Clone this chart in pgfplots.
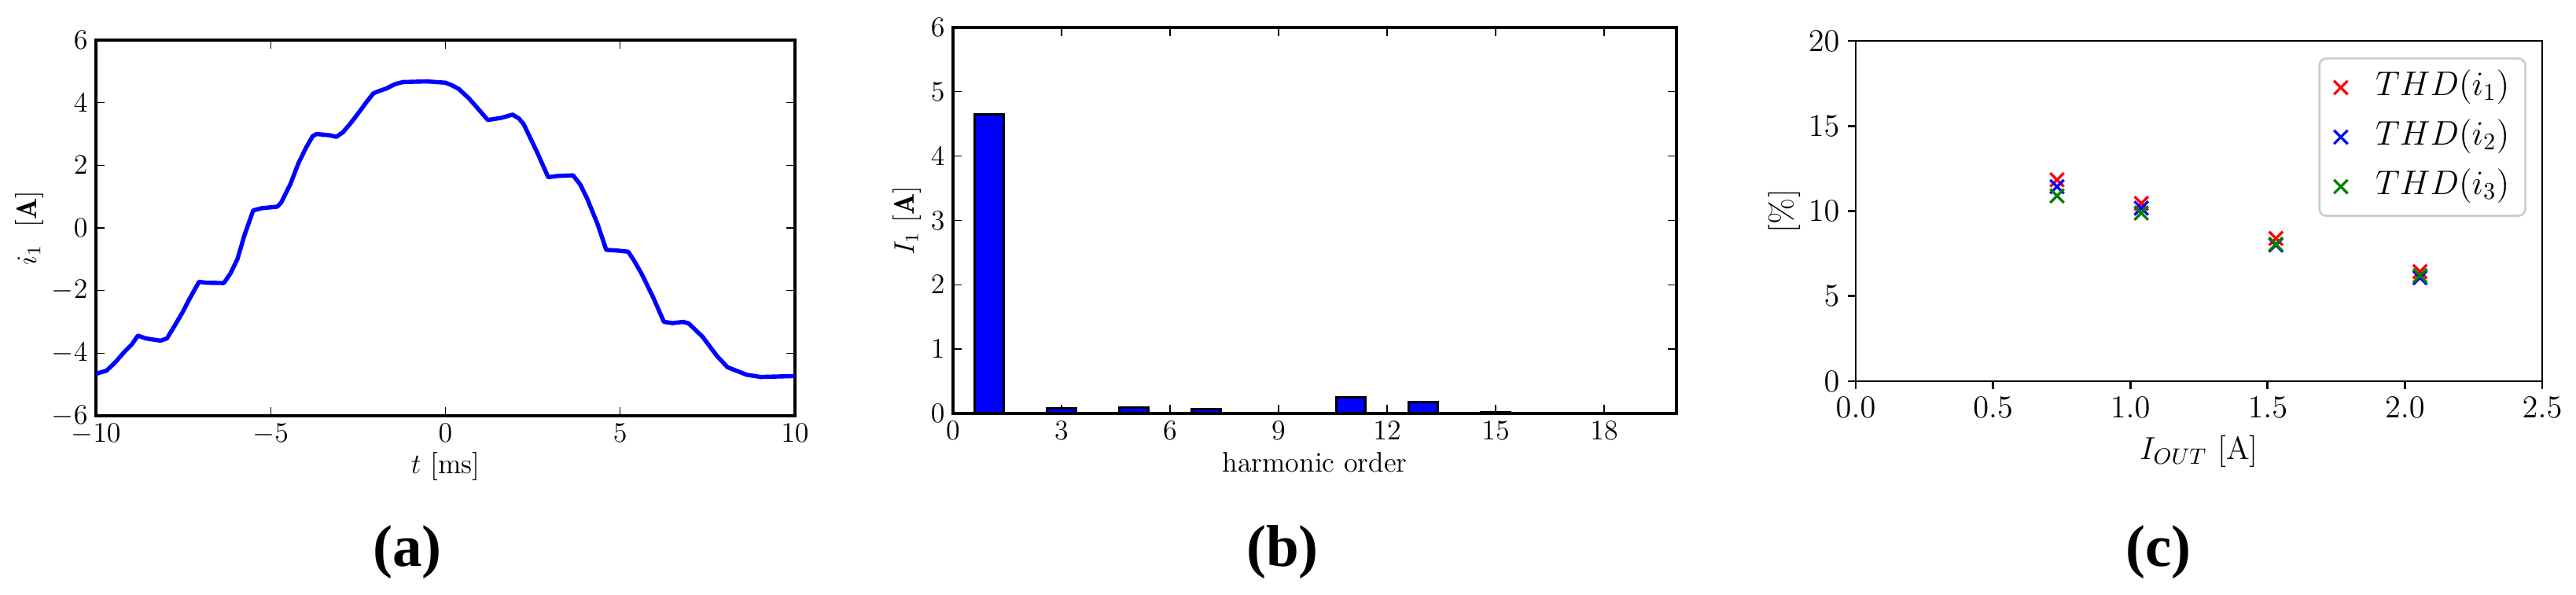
\RequirePackage{fix-cm}
\documentclass[border=0pt]{standalone}
\usepackage{fontspec}
\usepackage{pgfplots}
\pgfplotsset{compat=1.18}
\newfontfamily\labfont{Liberation Serif}
\definecolor{mplgreen}{rgb}{0,0.5,0}
\begin{document}
\begin{tikzpicture}
\path[use as bounding box] (0,0) rectangle (1092pt,252pt);

% ---------------- (a) ----------------
\begin{axis}[at={(40.67pt,75.67pt)}, anchor=south west, scale only axis,
  width=296.33pt, height=159.33pt,
  xmin=-10, xmax=10, ymin=-6, ymax=6,
  xtick={-10,-5,0,5,10}, ytick={-6,-4,-2,0,2,4,6},
  tick align=inside, major tick length=3.7pt,
  tick style={line width=0.45pt, black},
  axis line style={line width=1.2pt},
  font=\fontsize{12}{14}\selectfont,
  xlabel={$t$ [ms]}, ylabel={$i_1$\; [$\mathbf{A}$]},
  xlabel style={at={(axis description cs:0.5,-0.136)}, anchor=center},
  ylabel style={at={(axis description cs:-0.0956,0.5)}, anchor=center},
]
\addplot[blue, line width=1.8pt, line join=round] coordinates {
(-10.00,-4.66) (-9.70,-4.56) (-9.47,-4.32) (-9.17,-3.94) (-8.98,-3.73)
(-8.80,-3.44) (-8.57,-3.53) (-8.15,-3.60) (-7.97,-3.53) (-7.74,-3.11)
(-7.52,-2.69) (-7.33,-2.28) (-7.05,-1.72) (-6.85,-1.75) (-6.34,-1.76)
(-6.15,-1.45) (-5.95,-0.99) (-5.75,-0.23) (-5.50,0.56) (-5.26,0.63)
(-4.81,0.68) (-4.70,0.81) (-4.44,1.39) (-4.21,2.06) (-3.99,2.56)
(-3.80,2.93) (-3.69,3.00) (-3.31,2.96) (-3.12,2.91) (-2.93,3.06)
(-2.71,3.35) (-2.45,3.73) (-2.26,4.02) (-2.07,4.29) (-1.96,4.35)
(-1.70,4.45) (-1.43,4.60) (-1.21,4.66) (-0.53,4.68) (-0.01,4.64)
(0.14,4.58) (0.37,4.45) (0.67,4.14) (0.90,3.85) (1.21,3.45)
(1.40,3.48) (1.61,3.52) (1.92,3.62) (2.10,3.50) (2.24,3.31)
(2.63,2.40) (2.94,1.62) (3.20,1.66) (3.65,1.68) (3.85,1.40)
(4.05,0.95) (4.36,0.10) (4.60,-0.70) (4.90,-0.72) (5.23,-0.76)
(5.40,-1.05) (5.62,-1.48) (5.94,-2.21) (6.25,-3.00) (6.50,-3.04)
(6.80,-3.00) (6.96,-3.05) (7.36,-3.48) (7.76,-4.08) (8.07,-4.45)
(8.30,-4.55) (8.62,-4.69) (9.02,-4.76) (10.00,-4.73)
};
\end{axis}

% ---------------- (b) ----------------
\begin{axis}[at={(404pt,76.67pt)}, anchor=south west, scale only axis,
  width=306.67pt, height=163.67pt,
  xmin=0, xmax=20, ymin=0, ymax=6,
  xtick={0,3,6,9,12,15,18}, ytick={0,1,2,3,4,5,6},
  tick align=inside, major tick length=3.7pt,
  tick style={line width=0.45pt, black},
  axis line style={line width=1.2pt},
  font=\fontsize{12}{14}\selectfont,
  xlabel={harmonic order}, ylabel={$I_1$ [$\mathbf{A}$]},
  xlabel style={at={(axis description cs:0.5,-0.126)}, anchor=center},
  ylabel style={at={(axis description cs:-0.064,0.5)}, anchor=center},
]
\addplot[ybar, bar width=0.8, fill=blue, draw=black, line width=1.1pt] coordinates {
(1,4.65) (3,0.08) (5,0.09) (7,0.065) (11,0.25) (13,0.18) (15,0.02)
};
\end{axis}

% ---------------- (c) ----------------
\begin{axis}[at={(786.67pt,90.33pt)}, anchor=south west, scale only axis,
  width=291pt, height=144.33pt,
  xmin=0, xmax=2.5, ymin=0, ymax=20,
  xtick={0,0.5,1,1.5,2,2.5}, ytick={0,5,10,15,20},
  xtick pos=left, ytick pos=left,
  tick align=outside, major tick length=3.3pt,
  tick style={line width=0.9pt, black},
  axis line style={line width=0.9pt},
  font=\fontsize{13.5}{16}\selectfont,
  xticklabel style={/pgf/number format/.cd, fixed, fixed zerofill, precision=1},
  xlabel={$I_{OUT}$ [A]}, ylabel={[\%]},
  xlabel style={at={(axis description cs:0.5,-0.206)}, anchor=center},
  ylabel style={at={(axis description cs:-0.104,0.5)}, anchor=center},
  legend cell align=left,
  legend style={at={(axis description cs:0.977,0.9515)}, anchor=north east,
    draw=black!20, line width=0.9pt, rounded corners=3pt, fill=white,
    inner xsep=6.2pt, inner ysep=3.6pt, row sep=3.5pt, column sep=11.3pt,
    font=\fontsize{14.5}{17}\selectfont,
    /tikz/every node/.style={inner ysep=2pt, text height=10pt, text depth=3.5pt},
    /tikz/every odd column/.style={inner xsep=5pt},
    /tikz/every even column/.style={inner xsep=0.5pt}},
]
\addplot[only marks, mark=x, red, mark size=4.1pt, mark options={line width=1.1pt}]
  coordinates {(0.733,11.84) (1.04,10.45) (1.53,8.39) (2.055,6.44)};
\addlegendentry{$THD(i_1)$}
\addplot[only marks, mark=x, blue, mark size=4.1pt, mark options={line width=1.1pt}]
  coordinates {(0.733,11.43) (1.04,10.17) (1.53,8.00) (2.055,6.08)};
\addlegendentry{$THD(i_2)$}
\addplot[only marks, mark=x, mplgreen, mark size=4.1pt, mark options={line width=1.1pt}]
  coordinates {(0.733,10.89) (1.04,9.88) (1.53,8.05) (2.055,6.20)};
\addlegendentry{$THD(i_3)$}
\end{axis}

\node[font=\labfont\bfseries\fontsize{25}{30}\selectfont] at (172.67pt,18pt) {(a)};
\node[font=\labfont\bfseries\fontsize{25}{30}\selectfont] at (543.67pt,18pt) {(b)};
\node[font=\labfont\bfseries\fontsize{25}{30}\selectfont] at (915pt,18pt) {(c)};
\end{tikzpicture}
\end{document}
